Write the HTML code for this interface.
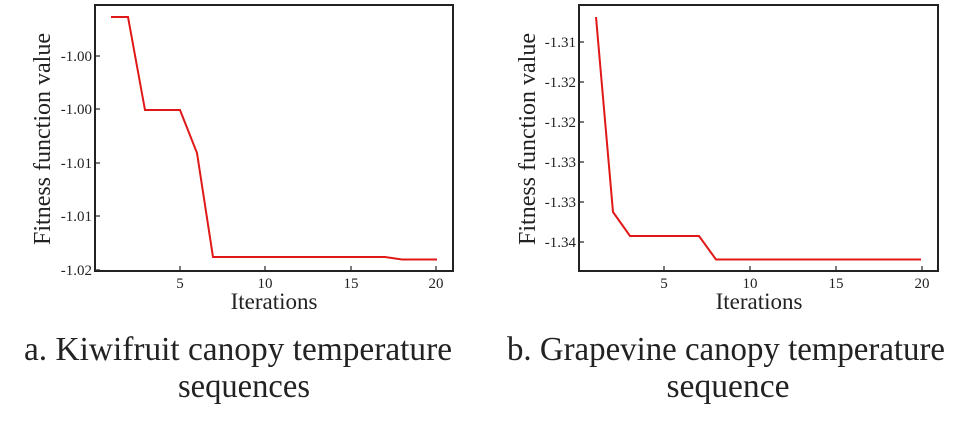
<!DOCTYPE html>
<html><head><style>body{margin:0;background:#fff;}svg{display:block}</style></head><body>
<svg width="971" height="426" xmlns="http://www.w3.org/2000/svg" font-family="Liberation Serif, serif">
<rect width="971" height="426" fill="#fff"/>
<!-- Chart a -->
<rect x="95" y="5" width="358" height="266" fill="none" stroke="#222" stroke-width="2"/>
<g stroke="#222" stroke-width="1.2">
<line x1="95" y1="56" x2="100" y2="56"/><line x1="95" y1="109" x2="100" y2="109"/><line x1="95" y1="163" x2="100" y2="163"/><line x1="95" y1="216" x2="100" y2="216"/><line x1="95" y1="270" x2="100" y2="270"/>
<line x1="180" y1="271" x2="180" y2="266"/><line x1="265" y1="271" x2="265" y2="266"/><line x1="351" y1="271" x2="351" y2="266"/><line x1="436" y1="271" x2="436" y2="266"/>
</g>
<g font-size="15" fill="#222" text-anchor="end">
<text x="92" y="61">-1.00</text><text x="92" y="114">-1.00</text><text x="92" y="168">-1.01</text><text x="92" y="221">-1.01</text><text x="92" y="275">-1.02</text>
</g>
<g font-size="15" fill="#222" text-anchor="middle">
<text x="180" y="288">5</text><text x="265" y="288">10</text><text x="351" y="288">15</text><text x="436" y="288">20</text>
</g>
<text x="274" y="309" font-size="23" text-anchor="middle" fill="#222">Iterations</text>
<text transform="translate(50,139) rotate(-90)" font-size="24" text-anchor="middle" fill="#222" textLength="212" lengthAdjust="spacingAndGlyphs">Fitness function value</text>
<polyline fill="none" stroke="#e01818" stroke-width="2" points="111,17 128,17 145,110 180,110 197,153 213,257 385,257 402,259.5 437,259.5"/>
<!-- Chart b -->
<rect x="579" y="5" width="359" height="266" fill="none" stroke="#222" stroke-width="2"/>
<g stroke="#222" stroke-width="1.2">
<line x1="579" y1="42" x2="584" y2="42"/><line x1="579" y1="82" x2="584" y2="82"/><line x1="579" y1="122" x2="584" y2="122"/><line x1="579" y1="162" x2="584" y2="162"/><line x1="579" y1="202" x2="584" y2="202"/><line x1="579" y1="242" x2="584" y2="242"/>
<line x1="664" y1="271" x2="664" y2="266"/><line x1="750" y1="271" x2="750" y2="266"/><line x1="836" y1="271" x2="836" y2="266"/><line x1="922" y1="271" x2="922" y2="266"/>
</g>
<g font-size="15" fill="#222" text-anchor="end">
<text x="576" y="47">-1.31</text><text x="576" y="87">-1.32</text><text x="576" y="127">-1.32</text><text x="576" y="167">-1.33</text><text x="576" y="207">-1.33</text><text x="576" y="247">-1.34</text>
</g>
<g font-size="15" fill="#222" text-anchor="middle">
<text x="664" y="288">5</text><text x="750" y="288">10</text><text x="836" y="288">15</text><text x="922" y="288">20</text>
</g>
<text x="759" y="309" font-size="23" text-anchor="middle" fill="#222">Iterations</text>
<text transform="translate(535,139) rotate(-90)" font-size="24" text-anchor="middle" fill="#222" textLength="212" lengthAdjust="spacingAndGlyphs">Fitness function value</text>
<polyline fill="none" stroke="#e01818" stroke-width="2" points="596,17 613,212 630,236 699,236 716,259.5 921,259.5"/>
<!-- captions -->
<g font-size="34" fill="#222" text-anchor="middle">
<text x="238" y="360" textLength="428" lengthAdjust="spacingAndGlyphs">a. Kiwifruit canopy temperature</text>
<text x="244" y="397" textLength="132" lengthAdjust="spacingAndGlyphs">sequences</text>
<text x="726" y="360" textLength="438" lengthAdjust="spacingAndGlyphs">b. Grapevine canopy temperature</text>
<text x="728" y="397" textLength="123" lengthAdjust="spacingAndGlyphs">sequence</text>
</g>
</svg>
</body></html>
